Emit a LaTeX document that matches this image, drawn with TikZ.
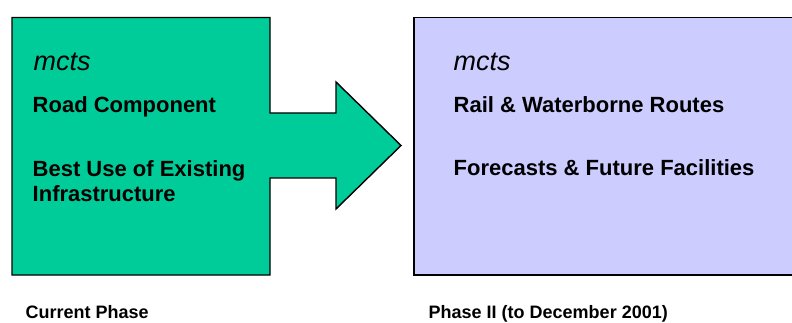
\documentclass[tikz,border=0pt]{standalone}
\usepackage{fontspec}
\setmainfont{Liberation Sans}
\definecolor{phasegreen}{HTML}{00CC99}
\definecolor{phaselilac}{HTML}{CCCCFF}

\begin{document}
\begin{tikzpicture}[x=1pt,y=-1pt,line width=1.4pt,line join=miter,
	every node/.style={anchor=base west,inner sep=0pt},
	brand/.style={font=\fontsize{27}{30}\selectfont\itshape},
	item/.style={font=\fontsize{22}{25}\selectfont\bfseries},
	phase/.style={font=\fontsize{18}{20}\selectfont\bfseries}]

\useasboundingbox (0,0) rectangle (792,323);

\def\top{17.5}
\def\bot{275}
\def\mid{145.5}

% current phase: box with the arrow
\draw[fill=phasegreen]
	(12,\top)--(270,\top)--(270,\mid-32.5)--(336,\mid-32.5)--(336,\mid-63.5)
	--(401,\mid)
	--(336,\mid+63.5)--(336,\mid+32.5)--(270,\mid+32.5)--(270,\bot)--(12,\bot)--cycle;

\node[brand] (mctsA) at (33,71) {mcts};
\node[item] (road) at (32,113) {Road Component};
\node[item] (best) at (32,177) {Best Use of Existing};
\node[item] (infra) at (32,202) {Infrastructure};

% phase II
\begin{scope}
\clip (0,0) rectangle (792,323);
\draw[fill=phaselilac] (414,\top) rectangle (800,\bot);
\end{scope}

\node[brand] (mctsB) at (453,71) {mcts};
\node[item] (rail) at (453,113) {Rail \& Waterborne Routes};
\node[item] (fore) at (453,176) {Forecasts \& Future Facilities};

\node[phase] (now) at (25,318) {Current Phase};
\node[phase] (next) at (428,318) {Phase II (to December 2001)};

\end{tikzpicture}
\end{document}
